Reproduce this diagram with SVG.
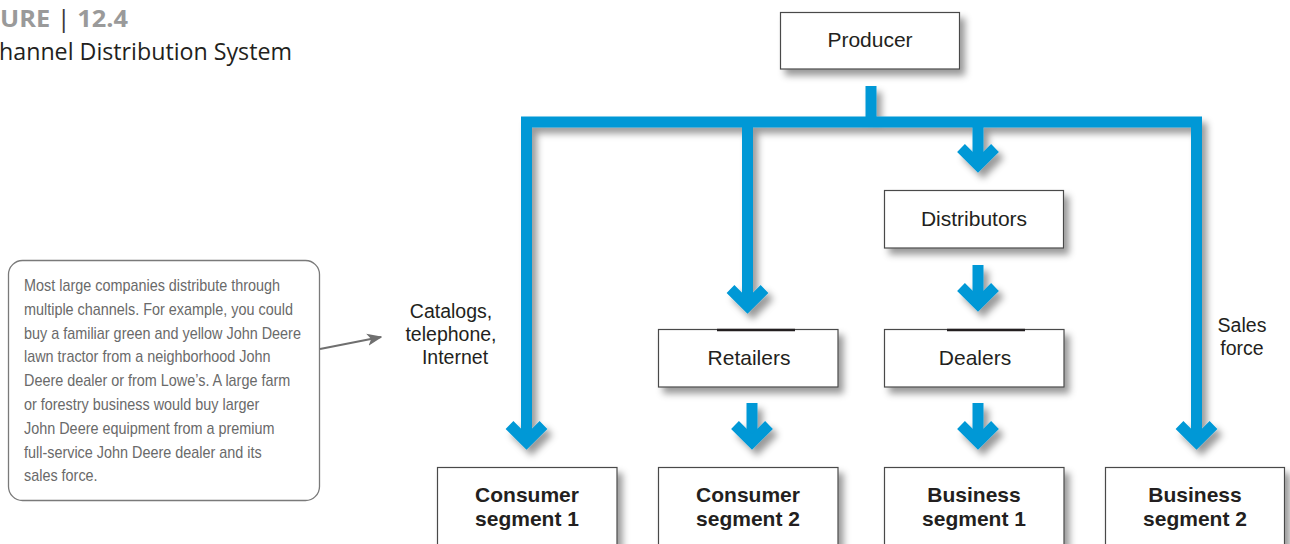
<svg xmlns="http://www.w3.org/2000/svg" width="1290" height="544" viewBox="0 0 1290 544">
  <style>
    .box { fill: #ffffff; stroke: #4a4a4a; stroke-width: 1.2; }
    .lbl { font-family: "Liberation Sans", Arial, sans-serif; font-size: 21px; fill: #231f20; text-anchor: middle; }
    .bold { font-weight: bold; font-size: 21px; }
    .side { font-family: "Liberation Sans", Arial, sans-serif; font-size: 19.5px; fill: #231f20; text-anchor: middle; }
    .note { font-family: "Liberation Sans", Arial, sans-serif; font-size: 16px; fill: #6a6a6a; }
    .flow { fill: none; stroke: #0098d6; stroke-width: 11; stroke-linejoin: miter; stroke-linecap: butt; }
    .head { fill: none; stroke: #0098d6; stroke-width: 11; stroke-linejoin: miter; stroke-miterlimit: 4; stroke-linecap: butt; }
    .edge { stroke: #231f20; stroke-width: 2.4; }
  </style>
  <defs>
    <filter id="sh" x="-20%" y="-20%" width="150%" height="160%">
      <feDropShadow dx="5" dy="6" stdDeviation="3.5" flood-color="#000" flood-opacity="0.4"/>
    </filter>
    <marker id="gray-arrow" viewBox="0 0 10 10" refX="9" refY="5" markerWidth="7" markerHeight="7" orient="auto" markerUnits="strokeWidth">
      <path d="M0,1 L10,5 L0,9 L2.5,5 Z" fill="#6f6f6f"/>
    </marker>
  </defs>
  <rect width="1290" height="544" fill="#ffffff"/>

  <g id="title">
    <text x="0" y="27" font-family="'Open Sans', 'Liberation Sans', sans-serif" font-size="23" font-weight="bold" fill="#9a9a9a" textLength="128" lengthAdjust="spacingAndGlyphs">URE <tspan fill="#3a3a3a" font-weight="normal">|</tspan> 12.4</text>
    <text x="-1" y="60" font-family="'Open Sans', 'Liberation Sans', sans-serif" font-size="23" fill="#231f20" textLength="293" lengthAdjust="spacingAndGlyphs">hannel Distribution System</text>
  </g>

  <g id="connectors" filter="url(#sh)">
    <path class="flow" d="M871,86 V122"/>
    <path class="flow" d="M526.5,442 V122 H1196.5 V442"/>
    <path class="flow" d="M747.5,122 V306"/>
    <path class="flow" d="M978,122 V165"/>
    <path class="flow" d="M978,265 V304"/>
    <path class="flow" d="M752,403 V442"/>
    <path class="flow" d="M978,403 V442"/>
    <polyline class="head" points="509.5,425 526.5,442 543.5,425"/>
    <polyline class="head" points="730.5,289 747.5,306 764.5,289"/>
    <polyline class="head" points="961,148 978,165 995,148"/>
    <polyline class="head" points="961,287 978,304 995,287"/>
    <polyline class="head" points="735,425 752,442 769,425"/>
    <polyline class="head" points="961,425 978,442 995,425"/>
    <polyline class="head" points="1179.5,425 1196.5,442 1213.5,425"/>
  </g>

  <g id="connector-labels">
    <text class="side" x="451" y="318">Catalogs,</text>
    <text class="side" x="451" y="341">telephone,</text>
    <text class="side" x="455" y="364">Internet</text>
    <text class="side" x="1242" y="332">Sales</text>
    <text class="side" x="1242" y="355">force</text>
  </g>

  <g id="producer">
    <rect class="box" x="780.5" y="12.5" width="179" height="56.5" filter="url(#sh)"/>
    <text class="lbl" x="870" y="47">Producer</text>
  </g>

  <g id="distributors">
    <rect class="box" x="884.5" y="190.5" width="179" height="57.5" filter="url(#sh)"/>
    <text class="lbl" x="974" y="226">Distributors</text>
  </g>

  <g id="retailers">
    <rect class="box" x="658.5" y="329.5" width="179.5" height="57.5" filter="url(#sh)"/>
    <line class="edge" x1="717" y1="330" x2="795" y2="330"/>
    <text class="lbl" x="749" y="365">Retailers</text>
  </g>

  <g id="dealers">
    <rect class="box" x="884.5" y="329.5" width="179.5" height="57.5" filter="url(#sh)"/>
    <line class="edge" x1="947" y1="330" x2="1025" y2="330"/>
    <text class="lbl" x="975" y="365">Dealers</text>
  </g>

  <g id="consumer-segment-1">
    <rect class="box" x="437.5" y="467.5" width="179.5" height="100" filter="url(#sh)"/>
    <text class="lbl bold" x="527" y="502">Consumer</text>
    <text class="lbl bold" x="527" y="526">segment 1</text>
  </g>

  <g id="consumer-segment-2">
    <rect class="box" x="658.5" y="467.5" width="179.5" height="100" filter="url(#sh)"/>
    <text class="lbl bold" x="748" y="502">Consumer</text>
    <text class="lbl bold" x="748" y="526">segment 2</text>
  </g>

  <g id="business-segment-1">
    <rect class="box" x="884.5" y="467.5" width="179.5" height="100" filter="url(#sh)"/>
    <text class="lbl bold" x="974" y="502">Business</text>
    <text class="lbl bold" x="974" y="526">segment 1</text>
  </g>

  <g id="business-segment-2">
    <rect class="box" x="1105.5" y="467.5" width="179" height="100" filter="url(#sh)"/>
    <text class="lbl bold" x="1195" y="502">Business</text>
    <text class="lbl bold" x="1195" y="526">segment 2</text>
  </g>

  <g id="callout">
    <rect x="8.5" y="260.5" width="311" height="240" rx="14" ry="14" fill="#ffffff" stroke="#7a7a7a" stroke-width="1.3"/>
    <g transform="translate(24,0) scale(0.9,1)">
      <text class="note" x="0" y="291">Most large companies distribute through</text>
      <text class="note" x="0" y="314.8">multiple channels. For example, you could</text>
      <text class="note" x="0" y="338.6">buy a familiar green and yellow John Deere</text>
      <text class="note" x="0" y="362.4">lawn tractor from a neighborhood John</text>
      <text class="note" x="0" y="386.2">Deere dealer or from Lowe’s. A large farm</text>
      <text class="note" x="0" y="410">or forestry business would buy larger</text>
      <text class="note" x="0" y="433.8">John Deere equipment from a premium</text>
      <text class="note" x="0" y="457.6">full-service John Deere dealer and its</text>
      <text class="note" x="0" y="481.4">sales force.</text>
    </g>
  </g>

  <g id="callout-connector">
    <line x1="320" y1="349" x2="381" y2="337" stroke="#6f6f6f" stroke-width="2.2" marker-end="url(#gray-arrow)"/>
  </g>
</svg>
